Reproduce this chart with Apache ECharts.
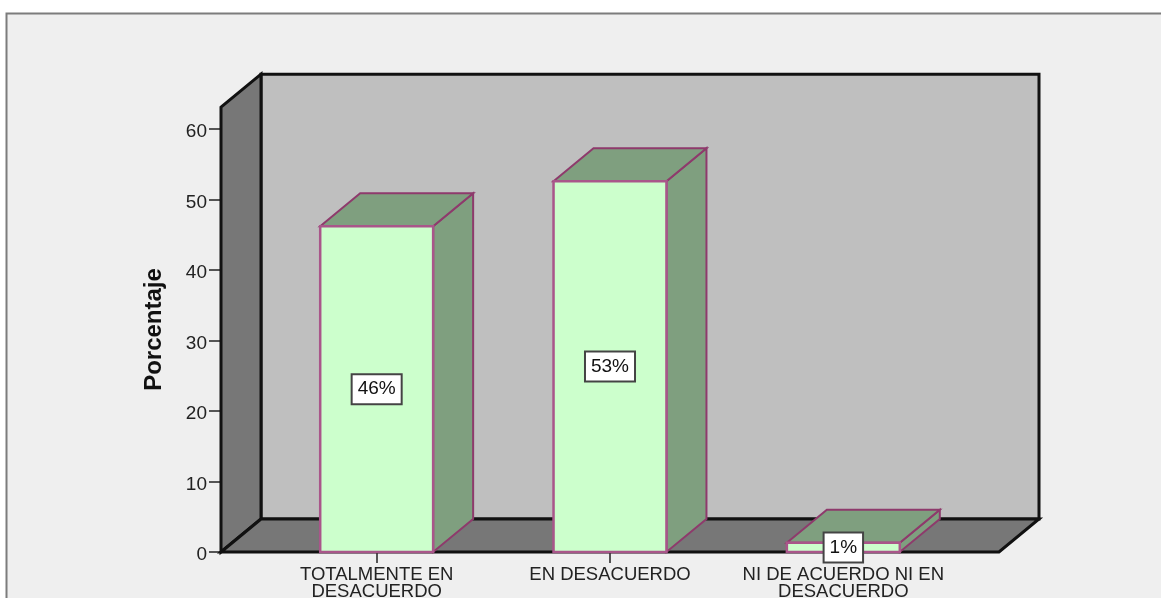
<!DOCTYPE html>
<html><head><meta charset="utf-8">
<script src="https://cdn.jsdelivr.net/npm/echarts@6/dist/echarts.min.js"></script>
<style>html,body{margin:0;padding:0;background:#fff}#c{width:1161px;height:598px}</style>
</head><body><div id="c"></div>
<script>
const categories = ['TOTALMENTE EN\nDESACUERDO', 'EN DESACUERDO', 'NI DE ACUERDO NI EN\nDESACUERDO'];
const percentValues = [46.2, 52.6, 1.3];
const percentLabels = ['46%', '53%', '1%'];
const yTicks = {min: 0, max: 60, interval: 10};
const wallTopValue = 63.1;

const DX = 40, DY = -33, SIDE = 39, BAR = 0.484;
const FACE = '#ccffcc', SHADE = '#7f9f7f', EDGE = '#8e3a6c', EDGE_FRONT = '#a9568a';
const font = '"Liberation Sans", Arial, sans-serif';
const poly = (points, fill, stroke, lw) => ({type: 'polygon', shape: {points}, style: {fill, stroke, lineWidth: lw, lineJoin: 'miter'}});

const chart = echarts.init(document.getElementById('c'), null, {renderer: 'canvas'});
chart.setOption({
  animation: false,
  backgroundColor: '#ffffff',
  graphic: [{type: 'rect', z: -10, shape: {x: 6.5, y: 13.5, width: 1170, height: 600},
    style: {fill: '#efefef', stroke: '#7c7c7c', lineWidth: 2}}],
  grid: {left: 260, width: 700, top: 129, height: 423, outerBoundsMode: 'none', containLabel: false},
  xAxis: {
    type: 'category', data: categories,
    axisLine: {show: false},
    axisTick: {show: true, alignWithLabel: true, length: 11, lineStyle: {color: '#222', width: 1.5}},
    axisLabel: {color: '#222', fontFamily: font, fontSize: 18.5, lineHeight: 17.5, margin: 14, interval: 0}
  },
  yAxis: {
    type: 'value', min: yTicks.min, max: yTicks.max, interval: yTicks.interval,
    position: 'left', offset: 39,
    name: 'Porcentaje', nameLocation: 'middle', nameGap: 55, nameRotate: 90,
    nameTextStyle: {color: '#111', fontFamily: font, fontSize: 24, fontWeight: 'bold', padding: [0, 0, 0, 22]},
    splitLine: {show: false},
    axisLine: {show: false},
    axisTick: {show: true, length: 12, lineStyle: {color: '#222', width: 1.5}},
    axisLabel: {color: '#222', fontFamily: font, fontSize: 19, margin: 14, verticalAlign: 'top', lineHeight: 6}
  },
  series: [
    {
      type: 'custom', coordinateSystem: 'cartesian2d', clip: false, z: 1, silent: true,
      data: [[0, 0]],
      renderItem(params, api) {
        const cs = params.coordSys;
        const L = cs.x - SIDE, R = cs.x + cs.width + SIDE;
        const y0 = api.coord([0, 0])[1], yT = api.coord([0, wallTopValue])[1];
        const K = '#111', W = '#777777';
        return {type: 'group', children: [
          poly([[L + DX, yT + DY], [R + DX, yT + DY], [R + DX, y0 + DY], [L + DX, y0 + DY]], '#bfbfbf', K, 3),
          poly([[L, yT], [L + DX, yT + DY], [L + DX, y0 + DY], [L, y0]], W, K, 3),
          poly([[L, y0], [L + DX, y0 + DY], [R + DX, y0 + DY], [R, y0]], W, K, 3)
        ]};
      }
    },
    {
      type: 'custom', coordinateSystem: 'cartesian2d', clip: false, z: 2, silent: true,
      data: percentValues.map((v, i) => [i, v, percentLabels[i]]),
      encode: {x: 0, y: 1},
      renderItem(params, api) {
        const c = api.coord([api.value(0), api.value(1)]);
        const y0 = api.coord([api.value(0), 0])[1];
        const w = api.size([1, 0])[0] * BAR;
        const l = c[0] - w / 2, r = c[0] + w / 2, t = c[1];
        const txt = percentLabels[params.dataIndex];
        return {type: 'group', children: [
          poly([[r, t], [r + DX, t + DY], [r + DX, y0 + DY], [r, y0]], SHADE, EDGE, 2),
          poly([[l, t], [l + DX, t + DY], [r + DX, t + DY], [r, t]], SHADE, EDGE, 2),
          poly([[l, t], [r, t], [r, y0], [l, y0]], FACE, EDGE_FRONT, 2.5),
          {type: 'text', z2: 10,
            x: c[0], y: (t + y0) / 2,
            style: {text: txt, x: 0, y: 0, align: 'center', verticalAlign: 'middle',
              font: '19px ' + font, fill: '#111', backgroundColor: '#ffffff',
              borderColor: '#444', borderWidth: 2, padding: [5, 5, 4, 5]}}
        ]};
      }
    }
  ]
});
</script></body></html>
